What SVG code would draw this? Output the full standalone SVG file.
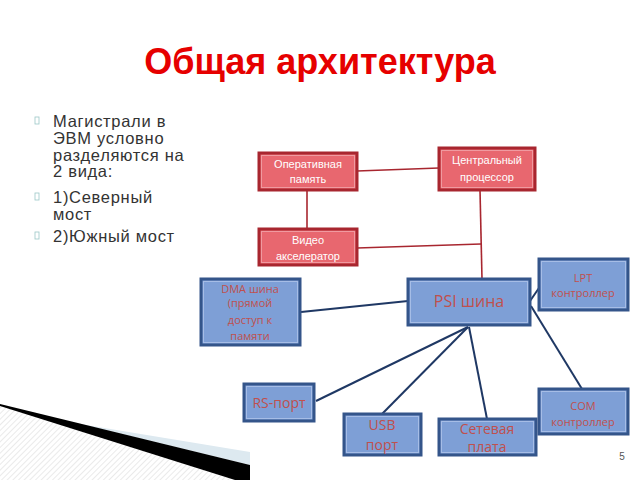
<svg xmlns="http://www.w3.org/2000/svg" width="640" height="480" viewBox="0 0 640 480">
<defs>
<pattern id="hatch" width="4" height="4" patternUnits="userSpaceOnUse" patternTransform="rotate(45)">
<rect width="4" height="4" fill="#ffffff"/>
<line x1="0" y1="0" x2="0" y2="4" stroke="#e4e4e4" stroke-width="1.5"/>
</pattern>
</defs>
<style>
.t{font-family:"Liberation Sans",Arial,sans-serif}
.red rect.o{fill:#e8676f;stroke:#a8262f;stroke-width:3}
.red rect.i{fill:none;stroke:#f09aa0;stroke-width:1}
.red text{fill:#ffffff;font-size:11px;text-anchor:middle;font-family:"Liberation Sans",Arial,sans-serif}
.blue rect.o{fill:#7e9fd6;stroke:#34558a;stroke-width:3}
.blue rect.i{fill:none;stroke:#a6bde6;stroke-width:1}
.blue text{fill:#c0504d;text-anchor:middle;font-family:"Open Sans","Liberation Sans",sans-serif}
.rl{stroke:#a8262f;stroke-width:1.6;fill:none}
.bl{stroke:#1f3864;stroke-width:2;fill:none}
.bul{fill:none;stroke:#9cc7c7;stroke-width:0.8}
.body{fill:#333333;font-size:16.5px;letter-spacing:0.7px;font-family:"Liberation Sans",Arial,sans-serif}
</style>
<rect width="640" height="480" fill="#ffffff"/>
<!-- bottom-left swoosh -->
<polygon points="0,405 235,480 0,480" fill="url(#hatch)"/>
<polygon points="80,424 250,452 250,465" fill="#dde9f0"/>
<polygon points="0,404 250,465 250,480 235,480 0,406" fill="#000000"/>

<text class="t" x="320" y="74" text-anchor="middle" font-size="36" font-weight="bold" fill="#e60000">Общая архитектура</text>

<g id="bullets">
<rect class="bul" x="35" y="117" width="4" height="7"/>
<rect class="bul" x="35" y="193" width="4" height="7"/>
<rect class="bul" x="35" y="232" width="4" height="7"/>
</g>
<text class="body" x="53" y="127">
<tspan x="53" y="127">Магистрали в</tspan>
<tspan x="53" y="144">ЭВМ условно</tspan>
<tspan x="53" y="161">разделяются на</tspan>
<tspan x="53" y="177">2 вида:</tspan>
<tspan x="53" y="203">1)Северный</tspan>
<tspan x="53" y="220">мост</tspan>
<tspan x="53" y="242">2)Южный мост</tspan>
</text>

<g id="connectors">
<line class="rl" x1="357" y1="171" x2="439" y2="168"/>
<line class="rl" x1="307" y1="190" x2="307" y2="229"/>
<line class="rl" x1="480" y1="190" x2="482" y2="279"/>
<line class="rl" x1="357" y1="248" x2="481" y2="244"/>
<line class="bl" x1="301" y1="312" x2="408" y2="301"/>
<line class="bl" x1="530" y1="301" x2="539" y2="288"/>
<line class="bl" x1="531" y1="306" x2="582" y2="389"/>
<line class="bl" x1="468" y1="327" x2="316" y2="401"/>
<line class="bl" x1="468" y1="327" x2="382" y2="414"/>
<line class="bl" x1="469" y1="327" x2="487" y2="419"/>
</g>

<g id="ram" class="red">
<rect class="o" x="259" y="153" width="98" height="37"/>
<rect class="i" x="261.5" y="155.5" width="93" height="32"/>
<text x="308" y="168">Оперативная</text>
<text x="308" y="183">память</text>
</g>
<g id="cpu" class="red">
<rect class="o" x="439" y="148" width="96" height="42"/>
<rect class="i" x="441.5" y="150.5" width="91" height="37"/>
<text x="487" y="164">Центральный</text>
<text x="487" y="181">процессор</text>
</g>
<g id="video" class="red">
<rect class="o" x="259" y="229" width="98" height="36"/>
<rect class="i" x="261.5" y="231.5" width="93" height="31"/>
<text x="308" y="244">Видео</text>
<text x="308" y="260">акселератор</text>
</g>

<g id="dma" class="blue">
<rect class="o" x="201" y="279" width="99" height="66"/>
<rect class="i" x="203.5" y="281.5" width="94" height="61"/>
<text x="250" y="293" font-size="11">DMA шина</text>
<text x="250" y="307" font-size="11">(прямой</text>
<text x="250" y="324" font-size="11">доступ к</text>
<text x="250" y="340" font-size="11">памяти</text>
</g>
<g id="psi" class="blue">
<rect class="o" x="408" y="279" width="122" height="46"/>
<rect class="i" x="410.5" y="281.5" width="117" height="41"/>
<text x="469" y="307" font-size="16">PSI шина</text>
</g>
<g id="lpt" class="blue">
<rect class="o" x="539" y="259" width="89" height="51"/>
<rect class="i" x="541.5" y="261.5" width="84" height="46"/>
<text x="583" y="282" font-size="11">LPT</text>
<text x="583" y="297" font-size="11">контроллер</text>
</g>
<g id="rs" class="blue">
<rect class="o" x="244" y="384" width="70" height="37"/>
<rect class="i" x="246.5" y="386.5" width="65" height="32"/>
<text x="279" y="408" font-size="14">RS-порт</text>
</g>
<g id="usb" class="blue">
<rect class="o" x="344" y="414" width="77" height="41"/>
<rect class="i" x="346.5" y="416.5" width="72" height="36"/>
<text x="382" y="430" font-size="14">USB</text>
<text x="382" y="450" font-size="14">порт</text>
</g>
<g id="net" class="blue">
<rect class="o" x="439" y="419" width="97" height="36"/>
<rect class="i" x="441.5" y="421.5" width="92" height="31"/>
<text x="487" y="434" font-size="14">Сетевая</text>
<text x="487" y="452" font-size="14">плата</text>
</g>
<g id="com" class="blue">
<rect class="o" x="539" y="389" width="89" height="45"/>
<rect class="i" x="541.5" y="391.5" width="84" height="40"/>
<text x="583" y="410" font-size="11">COM</text>
<text x="583" y="426" font-size="11">контроллер</text>
</g>

<text class="t" x="622" y="460" font-size="10" fill="#555555" text-anchor="middle">5</text>
</svg>
